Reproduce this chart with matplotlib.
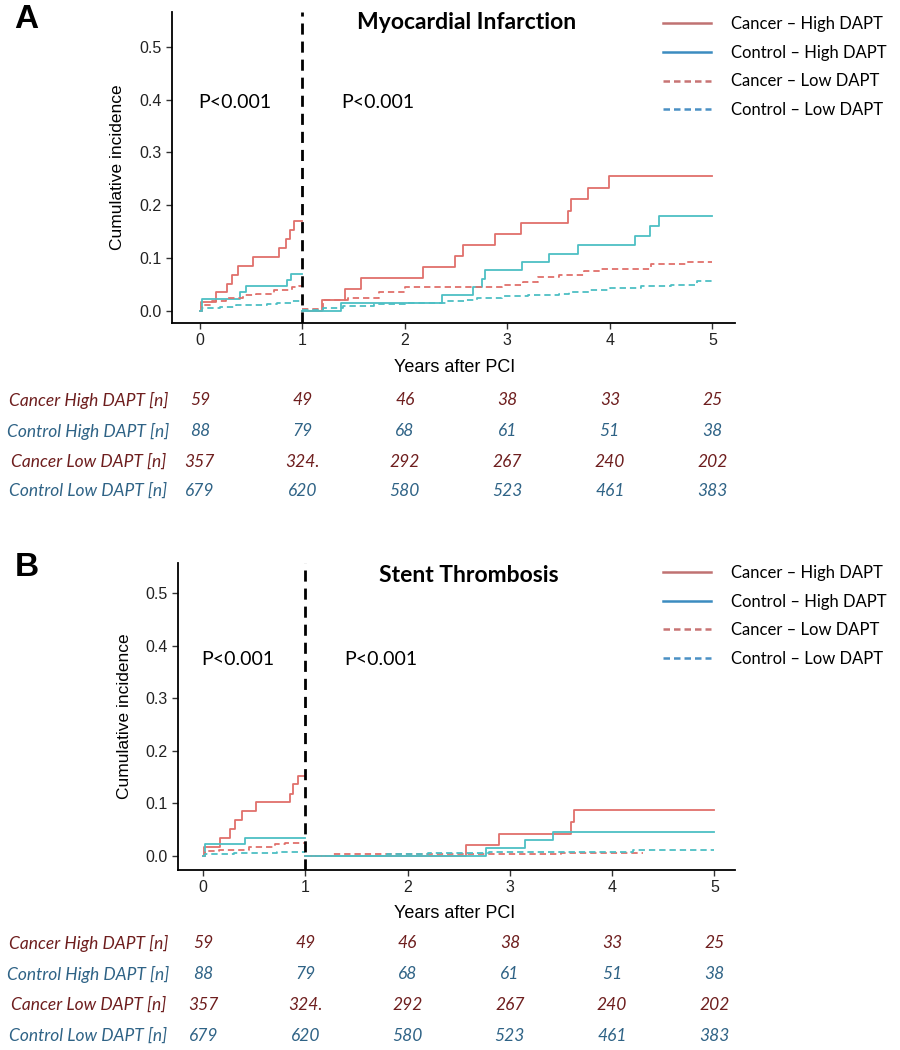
import matplotlib
matplotlib.use("Agg")
import matplotlib.pyplot as plt
import matplotlib.transforms as mtransforms
from matplotlib.lines import Line2D

# ---- data: cumulative incidence, landmark at 1 year ----
# Myocardial infarction, first year
mi_ch_early_t = [0, 0.01, 0.16, 0.26, 0.31, 0.37, 0.52, 0.77, 0.84, 0.88, 0.92, 1.0]
mi_ch_early_y = [0, 0.017, 0.035, 0.051, 0.068, 0.085, 0.102, 0.12, 0.136, 0.153, 0.17, 0.17]
mi_co_early_t = [0, 0.02, 0.39, 0.45, 0.85, 0.89, 1.0]
mi_co_early_y = [0, 0.023, 0.035, 0.047, 0.058, 0.07, 0.07]
mi_cl_early_t = [0, 0.02, 0.12, 0.25, 0.42, 0.55, 0.72, 0.9, 0.97, 1.0]
mi_cl_early_y = [0, 0.012, 0.018, 0.025, 0.03, 0.033, 0.04, 0.046, 0.048, 0.048]
mi_ol_early_t = [0, 0.02, 0.2, 0.35, 0.65, 0.75, 0.9, 1.0]
mi_ol_early_y = [0, 0.005, 0.008, 0.012, 0.013, 0.016, 0.019, 0.019]
# Myocardial infarction, after landmark
mi_ch_late_t = [1.0, 1.19, 1.42, 1.57, 2.18, 2.49, 2.57, 2.88, 3.13, 3.59, 3.62, 3.79, 3.99, 5.0]
mi_ch_late_y = [0, 0.021, 0.042, 0.062, 0.083, 0.104, 0.125, 0.146, 0.167, 0.19, 0.212, 0.233, 0.256, 0.256]
mi_co_late_t = [1.0, 1.375, 2.36, 2.66, 2.75, 2.78, 3.14, 3.41, 3.69, 4.25, 4.39, 4.48, 5.0]
mi_co_late_y = [0, 0.015, 0.03, 0.045, 0.06, 0.077, 0.092, 0.107, 0.124, 0.142, 0.16, 0.179, 0.179]
mi_cl_late_t = [1.0, 1.2, 1.45, 1.75, 2.0, 2.95, 3.15, 3.3, 3.5, 3.75, 3.9, 4.4, 4.75, 5.0]
mi_cl_late_y = [0.003, 0.02, 0.025, 0.035, 0.045, 0.05, 0.055, 0.064, 0.068, 0.075, 0.08, 0.088, 0.092, 0.092]
mi_ol_late_t = [1.0, 1.2, 1.4, 1.7, 2.0, 2.4, 2.6, 2.7, 2.95, 3.2, 3.5, 3.6, 3.8, 4.0, 4.3, 4.6, 4.85, 5.0]
mi_ol_late_y = [0.001, 0.005, 0.01, 0.013, 0.015, 0.018, 0.02, 0.025, 0.028, 0.03, 0.033, 0.036, 0.04, 0.044, 0.047, 0.05, 0.056, 0.056]

# Stent thrombosis, first year
st_ch_early_t = [0, 0.01, 0.16, 0.26, 0.31, 0.38, 0.52, 0.85, 0.875, 0.93, 1.0]
st_ch_early_y = [0, 0.018, 0.035, 0.051, 0.068, 0.085, 0.102, 0.118, 0.136, 0.153, 0.153]
st_co_early_t = [0, 0.02, 0.41, 1.0]
st_co_early_y = [0, 0.023, 0.034, 0.034]
st_cl_early_t = [0, 0.02, 0.15, 0.45, 0.7, 0.8, 1.0]
st_cl_early_y = [0, 0.01, 0.012, 0.018, 0.022, 0.025, 0.025]
st_ol_early_t = [0, 0.02, 0.3, 0.72, 1.0]
st_ol_early_y = [0, 0.004, 0.005, 0.008, 0.008]
# Stent thrombosis, after landmark
st_ch_late_t = [1.0, 2.57, 2.89, 3.6, 3.63, 5.0]
st_ch_late_y = [0, 0.021, 0.042, 0.064, 0.087, 0.087]
st_co_late_t = [1.0, 2.77, 3.15, 3.42, 5.0]
st_co_late_y = [0, 0.015, 0.03, 0.045, 0.045]
st_cl_late_t = [1.0, 1.25, 2.5, 3.5, 4.2, 4.3]
st_cl_late_y = [0.001, 0.003, 0.004, 0.005, 0.006, 0.006]
st_ol_late_t = [1.0, 1.8, 2.2, 2.8, 3.3, 4.2, 5.0]
st_ol_late_y = [0.001, 0.003, 0.005, 0.007, 0.008, 0.011, 0.011]

# numbers at risk (same table under both panels)
years = [0, 1, 2, 3, 4, 5]
row_labels = ["Cancer High DAPT [n]", "Control High DAPT [n]",
              "Cancer Low DAPT [n]", "Control Low DAPT [n]"]
cancer_high_n = ["59", "49", "46", "38", "33", "25"]
control_high_n = ["88", "79", "68", "61", "51", "38"]
cancer_low_n = ["357", "324.", "292", "267", "240", "202"]
control_low_n = ["679", "620", "580", "523", "461", "383"]
legend_labels = ["Cancer \u2013 High DAPT", "Control \u2013 High DAPT",
                 "Cancer \u2013 Low DAPT", "Control \u2013 Low DAPT"]

# ---- style ----
RED = "#E0706B"
TEAL = "#4DBFC4"
DARKRED = "#6E1E1E"
STEEL = "#2F6386"
DASH = (0, (3.5, 2.2))
FONT = ["Lato", "DejaVu Sans"]

fig = plt.figure(figsize=(9, 10.5), dpi=100)


def panel(rect, xlim, ylim, curves, title, title_y, p_y, letter, letter_y,
          legend_y, table_ys, xlabel_y):
    ax = fig.add_axes(rect)
    styles = [(RED, "-"), (TEAL, "-"), (RED, DASH), (TEAL, DASH)]
    for (t1, y1, t2, y2), (c, ls) in zip(curves, styles):
        ax.step(t1, y1, where="post", color=c, lw=1.3, linestyle=ls)
        ax.step(t2, y2, where="post", color=c, lw=1.3, linestyle=ls)
    ax.axvline(1, color="black", lw=2, linestyle=(0, (4, 2.5)))
    ax.set_xlim(*xlim)
    ax.set_ylim(*ylim)
    ax.set_xticks(years)
    ax.set_yticks([0, 0.1, 0.2, 0.3, 0.4, 0.5])
    ax.set_yticklabels(["0.0", "0.1", "0.2", "0.3", "0.4", "0.5"])
    for s in ["top", "right"]:
        ax.spines[s].set_visible(False)
    for s in ["left", "bottom"]:
        ax.spines[s].set_linewidth(1.3)
    ax.tick_params(length=4, width=1, color="#333333", labelsize=11.5,
                   labelcolor="#222222")
    for lab in ax.get_xticklabels() + ax.get_yticklabels():
        lab.set_family("Liberation Sans")
    ax.set_ylabel("Cumulative incidence", fontsize=12.5, family="Liberation Sans",
                  labelpad=10)
    ax.text(2.6, title_y, title, fontsize=16.5, fontweight="bold", family=FONT,
            ha="center", va="center")
    ax.text(0.34, p_y, "P<0.001", fontsize=14, family=FONT, ha="center", va="center")
    ax.text(1.74, p_y, "P<0.001", fontsize=14, family=FONT, ha="center", va="center")
    fig.text(0.016, letter_y, letter, fontsize=24, fontweight="bold",
             family="Liberation Sans", va="center")

    # legend
    handles = [Line2D([], [], color="#C07272", lw=1.8),
               Line2D([], [], color="#3C8CC0", lw=1.8),
               Line2D([], [], color="#C87474", lw=1.8, linestyle=(0, (2.6, 1.6))),
               Line2D([], [], color="#4A90C4", lw=1.8, linestyle=(0, (2.6, 1.6)))]
    fig.legend(handles, legend_labels, loc="upper left",
               bbox_to_anchor=(0.7196, legend_y), frameon=False,
               prop={"family": FONT, "size": 12}, handlelength=2.9,
               handletextpad=1.2, labelspacing=0.76)

    trans = mtransforms.blended_transform_factory(ax.transData, fig.transFigure)
    fig.text(0.505, xlabel_y, "Years after PCI", fontsize=13,
             family="Liberation Sans", ha="center", va="center")
    rows = [cancer_high_n, control_high_n, cancer_low_n, control_low_n]
    colors = [DARKRED, STEEL, DARKRED, STEEL]
    for lab, vals, c, yy in zip(row_labels, rows, colors, table_ys):
        fig.text(0.098, yy, lab, fontsize=12.5, style="italic", family=FONT,
                 color=c, ha="center", va="center")
        for x, v in zip(years, vals):
            ax.text(x, yy, v, transform=trans, fontsize=12.5, style="italic",
                    family=FONT, color=c, ha="center", va="center")
    return ax


mi_curves = [(mi_ch_early_t, mi_ch_early_y, mi_ch_late_t, mi_ch_late_y),
             (mi_co_early_t, mi_co_early_y, mi_co_late_t, mi_co_late_y),
             (mi_cl_early_t, mi_cl_early_y, mi_cl_late_t, mi_cl_late_y),
             (mi_ol_early_t, mi_ol_early_y, mi_ol_late_t, mi_ol_late_y)]
st_curves = [(st_ch_early_t, st_ch_early_y, st_ch_late_t, st_ch_late_y),
             (st_co_early_t, st_co_early_y, st_co_late_t, st_co_late_y),
             (st_cl_early_t, st_cl_early_y, st_cl_late_t, st_cl_late_y),
             (st_ol_early_t, st_ol_early_y, st_ol_late_t, st_ol_late_y)]

panel([0.191, 0.6924, 0.626, 0.2962], (-0.273, 5.224), (-0.0227, 0.566),
      mi_curves, "Myocardial Infarction", 0.547, 0.394, "A", 1 - 20 / 1050,
      1 - 1 / 1050,
      [1 - 400 / 1050, 1 - 431 / 1050, 1 - 462 / 1050, 1 - 491 / 1050],
      1 - 368 / 1050)
panel([0.198, 0.1714, 0.619, 0.2924], (-0.245, 5.205), (-0.0266, 0.557),
      st_curves, "Stent Thrombosis", 0.533, 0.373, "B", 1 - 568 / 1050,
      1 - 550 / 1050,
      [1 - 943 / 1050, 1 - 974 / 1050, 1 - 1005 / 1050, 1 - 1036 / 1050],
      1 - 914 / 1050)

fig.savefig("out.png", dpi=100)
